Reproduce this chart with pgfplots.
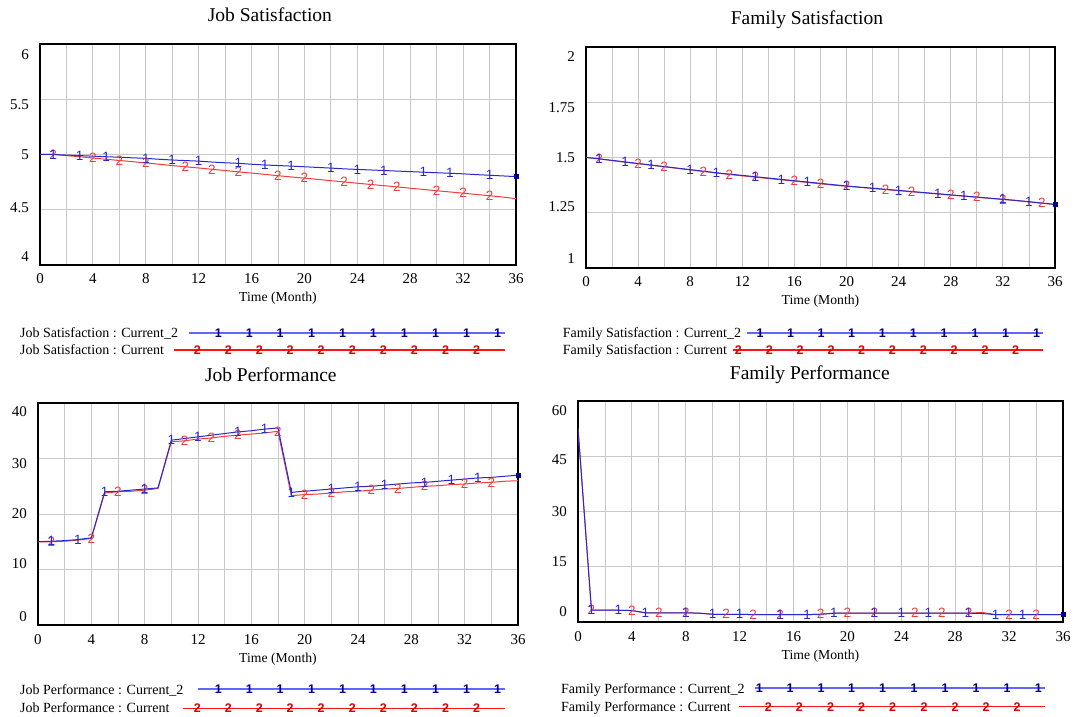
\documentclass[border=0pt]{standalone}
\usepackage{fontspec}
\setmainfont{Liberation Serif}
\newfontfamily\markfont{Liberation Sans}
\usepackage{pgfplots}
\usepackage{pgfplotstable}
\pgfplotsset{compat=1.18}
\usetikzlibrary{plotmarks}

\definecolor{plotblue}{RGB}{40,40,210}
\definecolor{plotred}{RGB}{240,60,60}
\definecolor{legblue}{RGB}{100,100,255}
\definecolor{legnavy}{RGB}{0,0,140}
\definecolor{legred}{RGB}{255,20,20}
\definecolor{legdred}{RGB}{215,0,0}
\definecolor{gridgray}{RGB}{200,200,200}

% t, a = Current_2 (blue), b = Current (red)
\pgfplotstableread{
t a b
0 5.000 5.000
1 5.000 5.000
2 4.995 4.990
3 4.990 4.980
4 4.985 4.968
5 4.980 4.957
6 4.975 4.946
7 4.970 4.935
8 4.965 4.924
9 4.957 4.912
10 4.950 4.900
11 4.945 4.889
12 4.940 4.878
13 4.932 4.866
14 4.925 4.855
15 4.920 4.843
16 4.912 4.832
17 4.905 4.820
18 4.900 4.808
19 4.895 4.797
20 4.889 4.786
21 4.883 4.775
22 4.877 4.763
23 4.870 4.752
24 4.865 4.740
25 4.860 4.729
26 4.855 4.718
27 4.850 4.707
28 4.845 4.695
29 4.840 4.684
30 4.835 4.672
31 4.830 4.661
32 4.825 4.650
33 4.818 4.638
34 4.812 4.627
35 4.806 4.615
36 4.800 4.600
}\jobsat

\pgfplotstableread{
t a b
0 1.500 1.500
1 1.494 1.494
2 1.487 1.486
3 1.480 1.479
4 1.473 1.472
5 1.466 1.465
6 1.459 1.458
7 1.452 1.451
8 1.445 1.444
9 1.438 1.437
10 1.431 1.430
11 1.425 1.423
12 1.419 1.417
13 1.413 1.411
14 1.407 1.405
15 1.401 1.399
16 1.395 1.393
17 1.389 1.387
18 1.383 1.381
19 1.377 1.375
20 1.371 1.370
21 1.366 1.365
22 1.361 1.360
23 1.356 1.355
24 1.351 1.350
25 1.346 1.345
26 1.341 1.340
27 1.336 1.335
28 1.331 1.330
29 1.326 1.325
30 1.321 1.320
31 1.316 1.315
32 1.311 1.310
33 1.306 1.305
34 1.300 1.299
35 1.294 1.293
36 1.288 1.287
}\famsat

\pgfplotstableread{
t a b
0 15.0 15.0
1 15.1 15.0
2 15.2 15.1
3 15.4 15.3
4 15.7 15.6
5 24.0 23.8
6 24.1 24.0
7 24.3 24.1
8 24.5 24.3
9 24.7 24.6
10 33.3 33.0
11 33.6 33.2
12 33.9 33.5
13 34.2 33.7
14 34.5 34.0
15 34.8 34.2
16 35.0 34.4
17 35.3 34.6
18 35.5 34.9
19 23.9 23.3
20 24.1 23.5
21 24.3 23.6
22 24.5 23.8
23 24.7 24.0
24 24.9 24.1
25 25.0 24.3
26 25.2 24.5
27 25.4 24.6
28 25.6 24.8
29 25.7 25.0
30 25.9 25.1
31 26.1 25.3
32 26.3 25.4
33 26.5 25.6
34 26.6 25.7
35 26.8 25.9
36 27.0 26.0
}\jobperf

\pgfplotstableread{
t a b
0 52.5 52.5
1 3.2 3.2
2 3.2 3.2
3 3.2 3.2
4 3.1 3.1
5 2.5 2.5
6 2.5 2.5
7 2.5 2.5
8 2.5 2.5
9 2.4 2.4
10 2.1 2.1
11 2.1 2.1
12 2.1 2.1
13 2.0 2.0
14 2.0 2.0
15 2.0 2.0
16 2.0 2.0
17 2.0 2.0
18 2.1 2.1
19 2.4 2.4
20 2.4 2.4
21 2.4 2.4
22 2.4 2.4
23 2.4 2.4
24 2.4 2.4
25 2.4 2.4
26 2.4 2.4
27 2.4 2.4
28 2.4 2.4
29 2.4 2.4
30 2.3 2.6
31 2.0 2.0
32 2.0 2.0
33 2.0 2.0
34 2.0 2.0
35 2.0 2.0
36 2.0 2.0
}\famperf

\tikzset{legtext/.style={anchor=base west, inner sep=0pt, font=\fontsize{14}{14}\selectfont}}

\pgfplotsset{
  vensim/.style={
    scale only axis,
    xmin=0, xmax=36,
    xtick={0,4,...,36},
    minor xtick={2,6,...,34},
    xmajorgrids, xminorgrids,
    ymajorgrids=false, yminorgrids=true,
    major tick length=0pt, minor tick length=0pt,
    tick style={draw=none},
    grid style={draw=gridgray, line width=0.9pt},
    minor grid style={draw=gridgray, line width=0.9pt},
    axis line style={line width=1.8pt, black},
    /pgf/number format/assume math mode=true,
    tick label style={font=\fontsize{15}{15}\selectfont},
    xticklabel style={anchor=base, inner sep=0pt, yshift=-19pt},
    yticklabel style={anchor=east, inner sep=0pt, xshift=-11pt},
    xlabel={Time (Month)},
    xlabel style={font=\fontsize{13.7}{14}\selectfont, at={(axis description cs:0.5,0)}, anchor=base, yshift=-37pt},
    title style={font=\fontsize{19.5}{20}\selectfont, anchor=base, yshift=16pt},
  },
  cur2/.style={plotblue, line width=1pt},
  cur1/.style={plotred, line width=1pt},
  mk2/.style={only marks, mark=text, text mark={1}, text mark as node=true,
    text mark style={font=\markfont\fontsize{13.5}{13.5}\selectfont, text=plotblue, inner sep=0pt}},
  mk1/.style={only marks, mark=text, text mark={2}, text mark as node=true,
    text mark style={font=\markfont\fontsize{13.5}{13.5}\selectfont, text=plotred, inner sep=0pt}},
  endmk/.style={only marks, mark=square*, mark size=2pt, mark options={fill=legnavy, draw=legnavy}},
  lg2/.style={only marks, mark=text, text mark={1}, text mark as node=true,
    text mark style={font=\markfont\bfseries\fontsize{12.5}{12.5}\selectfont, text=legnavy, inner sep=0pt}},
  lg1/.style={only marks, mark=text, text mark={2}, text mark as node=true,
    text mark style={font=\markfont\bfseries\fontsize{12.5}{12.5}\selectfont, text=legdred, inner sep=0pt}},
}

\begin{document}
\begin{tikzpicture}
\useasboundingbox (0,0) rectangle (1090pt,716pt);

% Job Satisfaction
\begin{axis}[vensim, at={(40pt,451pt)}, anchor=south west,
  width=476pt, height=221pt, ymin=4, ymax=6,
  title={Job Satisfaction}, title style={at={(axis description cs:0.483,1)}},
  ytick={4.08,4.52,5,5.45,5.90}, yticklabels={4,4.5,5,5.5,6},
  minor ytick={4.5,5,5.5}]
\addplot[cur1] table[x=t,y=b] {\jobsat};
\addplot[cur2] table[x=t,y=a] {\jobsat};
\addplot[mk1, mark indices={2,5,7,9,12,14,16,19,21,24,26,28,31,33,35}] table[x=t,y=b] {\jobsat};
\addplot[mk2, mark indices={2,4,6,9,11,13,16,18,20,23,25,27,30,32,35}] table[x=t,y=a] {\jobsat};
\addplot[endmk, mark indices={37}] table[x=t,y=a] {\jobsat};
\end{axis}

% Family Satisfaction
\begin{axis}[vensim, at={(586pt,448pt)}, anchor=south west,
  width=469pt, height=221pt, ymin=1, ymax=2,
  title={Family Satisfaction}, title style={at={(axis description cs:0.471,1)}},
  ytick={1.045,1.277,1.5,1.727,1.955}, yticklabels={1,1.25,1.5,1.75,2},
  minor ytick={1.25,1.5,1.75}]
\addplot[cur1] table[x=t,y=b] {\famsat};
\addplot[cur2] table[x=t,y=a] {\famsat};
\addplot[mk1, mark indices={2,5,7,10,12,14,17,19,21,24,26,29,31,33,36}] table[x=t,y=b] {\famsat};
\addplot[mk2, mark indices={2,4,6,9,11,14,16,18,21,23,25,28,30,33,35}] table[x=t,y=a] {\famsat};
\addplot[endmk, mark indices={37}] table[x=t,y=a] {\famsat};
\end{axis}

% Job Performance
\begin{axis}[vensim, at={(38pt,91pt)}, anchor=south west,
  width=480pt, height=222pt, ymin=0, ymax=40,
  title={Job Performance}, title style={at={(axis description cs:0.485,1)}},
  ytick={1.6,11.1,20,29.1,38.4}, yticklabels={0,10,20,30,40},
  minor ytick={10,20,30}]
\addplot[cur1] table[x=t,y=b] {\jobperf};
\addplot[cur2] table[x=t,y=a] {\jobperf};
\addplot[mk1, mark indices={2,5,7,9,12,14,16,19,21,23,26,28,30,33,35}] table[x=t,y=b] {\jobperf};
\addplot[mk2, mark indices={2,4,6,9,11,13,16,18,20,23,25,27,30,32,34}] table[x=t,y=a] {\jobperf};
\addplot[endmk, mark indices={37}] table[x=t,y=a] {\jobperf};
\end{axis}

% Family Performance
\begin{axis}[vensim, at={(578pt,94pt)}, anchor=south west,
  width=485pt, height=221pt, ymin=0, ymax=60,
  title={Family Performance}, title style={at={(axis description cs:0.478,1)}},
  ytick={2.7,16.4,30,44.2,57.5}, yticklabels={0,15,30,45,60},
  minor ytick={15,30,45}]
\addplot[cur1] table[x=t,y=b] {\famperf};
\addplot[cur2] table[x=t,y=a] {\famperf};
\addplot[mk1, mark indices={2,5,7,9,12,14,16,19,21,23,26,28,30,33,35}] table[x=t,y=b] {\famperf};
\addplot[mk2, mark indices={2,4,6,9,11,13,16,18,20,23,25,27,30,32,34}] table[x=t,y=a] {\famperf};
\addplot[endmk, mark indices={37}] table[x=t,y=a] {\famperf};
\end{axis}

% legends, in picture pixel coordinates
\begin{axis}[at={(0pt,0pt)}, anchor=south west, scale only axis,
  width=1090pt, height=716pt, xmin=0, xmax=1090, ymin=0, ymax=716,
  y dir=reverse, hide axis, clip=false]
% top left
\addplot[legblue, line width=1.8pt] coordinates {(189,332.7) (505,332.7)};
\addplot[lg2] coordinates {(218.3,332.7) (249.3,332.7) (280,332.7) (311.7,332.7) (342.7,332.7) (373.3,332.7) (404.3,332.7) (435.7,332.7) (466.7,332.7) (497.7,332.7)};
\addplot[legred, line width=1.1pt] coordinates {(174,350) (505,350)};
\addplot[lg1] coordinates {(197.3,350) (228.3,350) (259.3,350) (290,350) (321,350) (352.3,350) (383.3,350) (414.3,350) (445.7,350) (476.7,350)};
\node[legtext] at (axis cs:20,337.3) {Job Satisfaction : Current\_2};
\node[legtext] at (axis cs:20,354) {Job Satisfaction : Current};
% top right
\addplot[legblue, line width=1.8pt] coordinates {(747,332.7) (1043,332.7)};
\addplot[lg2] coordinates {(760,332.7) (790.7,332.7) (821,332.7) (851.7,332.7) (882.3,332.7) (913.3,332.7) (944,332.7) (975,332.7) (1005.7,332.7) (1036.7,332.7)};
\addplot[legred, line width=1.1pt] coordinates {(732.7,350) (1043,350)};
\addplot[lg1] coordinates {(738.3,350) (769.3,350) (800,350) (831,350) (861.7,350) (892.3,350) (923.3,350) (954,350) (985,350) (1015.7,350)};
\node[legtext] at (axis cs:562.7,337.8) {Family Satisfaction : Current\_2};
\node[legtext] at (axis cs:562.7,354.8) {Family Satisfaction : Current};
% bottom left
\addplot[legblue, line width=1.8pt] coordinates {(197.7,689.3) (505,689.3)};
\addplot[lg2] coordinates {(218.3,689.3) (249.3,689.3) (280,689.3) (311.7,689.3) (342.7,689.3) (373.3,689.3) (404.3,689.3) (435.7,689.3) (466.7,689.3) (497.7,689.3)};
\addplot[legred, line width=1.1pt] coordinates {(182.7,708.3) (505,708.3)};
\addplot[lg1] coordinates {(197.3,708.3) (228.3,708.3) (259.3,708.3) (290,708.3) (321,708.3) (352.3,708.3) (383.3,708.3) (414.3,708.3) (445.7,708.3) (476.7,708.3)};
\node[legtext] at (axis cs:20,694.5) {Job Performance : Current\_2};
\node[legtext] at (axis cs:20,712.7) {Job Performance : Current};
% bottom right
\addplot[legblue, line width=1.8pt] coordinates {(755,688.3) (1045,688.3)};
\addplot[lg2] coordinates {(759.3,688.3) (790,688.3) (821,688.3) (851.7,688.3) (882.7,688.3) (914,688.3) (945,688.3) (976,688.3) (1007,688.3) (1038.3,688.3)};
\addplot[legred, line width=1.1pt] coordinates {(739.3,706.7) (1045,706.7)};
\addplot[lg1] coordinates {(768.3,706.7) (799.3,706.7) (830.7,706.7) (861.7,706.7) (892.7,706.7) (924,706.7) (955,706.7) (986,706.7) (1017,706.7)};
\node[legtext] at (axis cs:561,693.3) {Family Performance : Current\_2};
\node[legtext] at (axis cs:561,711) {Family Performance : Current};
\end{axis}
\end{tikzpicture}
\end{document}
